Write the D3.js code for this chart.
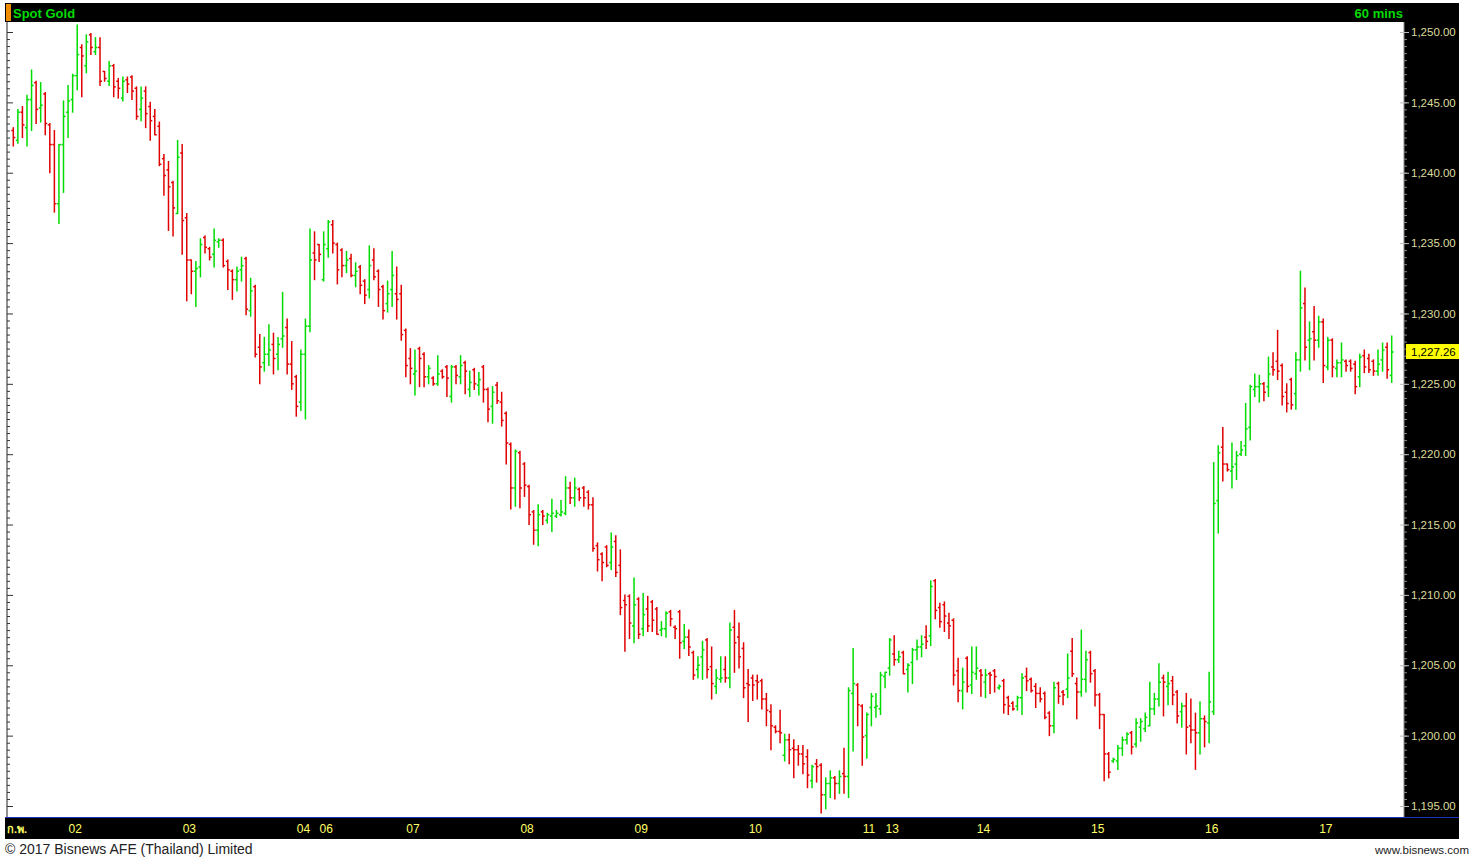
<!DOCTYPE html>
<html>
<head>
<meta charset="utf-8">
<script src="https://cdn.jsdelivr.net/npm/d3@7"></script>
<style>
  body { margin: 0; background: #fff; }
  svg { display: block; }
</style>
</head>
<body>
<svg id="chart" width="1471" height="859"></svg>
<script>
// hourly bars, Spot Gold, 1 - 17 Feb 2017
const highs = [
1243.2,1244.5,1244.7,1245.5,1247.3,1246.5,1246.4,1245.7,1243.5,1243.0,1242.0,1245.1,1246.2,1247.0,1250.5,1249.1,1249.8,1249.9,1249.6,1249.6,
1247.2,1247.9,1247.7,1246.7,1246.8,1246.8,1246.9,1246.1,1246.1,1246.1,1245.0,1244.5,1243.6,1241.3,1240.8,1239.4,1242.3,1242.0,1237.1,1233.8,
1233.7,1235.3,1235.5,1234.7,1236.0,1235.3,1235.3,1233.8,1233.1,1233.3,1234.0,1234.0,1232.5,1232.0,1228.5,1228.3,1229.2,1228.6,1228.3,1231.5,
1229.6,1228.0,1225.6,1227.4,1229.6,1236.0,1235.8,1234.9,1235.8,1236.6,1236.6,1235.0,1234.6,1234.4,1234.2,1233.6,1233.4,1232.4,1234.8,1234.6,
1233.1,1232.0,1232.3,1234.4,1233.3,1232.0,1228.9,1227.5,1227.4,1227.6,1227.2,1226.3,1225.5,1227.0,1226.0,1226.3,1226.3,1226.3,1227.0,1226.6,
1225.9,1226.1,1225.8,1226.3,1224.7,1224.8,1225.1,1224.4,1223.0,1220.8,1220.3,1220.2,1219.4,1217.8,1216.0,1216.4,1216.0,1215.8,1216.8,1216.0,
1216.7,1218.4,1218.0,1218.3,1217.6,1217.7,1217.4,1216.9,1213.7,1213.0,1213.5,1214.4,1214.2,1213.2,1210.0,1210.0,1211.2,1209.8,1210.1,1209.9,
1209.6,1209.1,1208.1,1208.8,1208.9,1207.8,1208.9,1207.9,1207.5,1206.0,1205.6,1206.7,1206.9,1206.3,1204.7,1205.6,1205.6,1208.0,1208.9,1208.0,
1206.6,1204.7,1204.3,1204.3,1204.0,1203.0,1202.2,1200.7,1201.8,1200.1,1200.1,1199.7,1199.3,1199.3,1199.0,1197.9,1198.3,1198.0,1197.0,1197.5,
1197.1,1197.5,1199.1,1203.4,1206.2,1203.7,1202.2,1201.6,1203.0,1203.0,1204.5,1204.5,1206.9,1207.1,1206.0,1206.0,1205.1,1206.2,1206.8,1207.1,
1207.8,1211.0,1211.1,1209.4,1209.5,1208.7,1208.3,1205.5,1204.8,1205.6,1206.3,1206.3,1204.7,1204.7,1204.5,1204.7,1203.6,1204.0,1202.8,1202.4,
1202.8,1204.4,1204.8,1204.1,1203.7,1203.4,1203.1,1201.7,1203.8,1203.8,1203.2,1205.8,1206.9,1204.1,1207.5,1206.0,1206.0,1204.7,1203.0,1201.5,
1198.8,1198.4,1199.3,1199.9,1200.2,1200.3,1201.2,1201.2,1201.6,1203.8,1203.0,1205.1,1204.3,1204.5,1204.2,1203.2,1202.3,1203.0,1202.6,1201.6,
1202.4,1201.4,1204.5,1219.4,1220.6,1221.9,1219.3,1220.8,1220.2,1220.9,1223.6,1224.9,1225.7,1225.6,1225.1,1226.9,1227.2,1228.8,1226.4,1225.0,
1225.4,1227.2,1233.0,1231.8,1229.4,1230.5,1229.8,1229.6,1228.3,1228.2,1226.7,1227.9,1226.7,1226.7,1226.6,1227.1,1227.4,1227.1,1226.7,1227.4,
1227.9,1227.9,1228.4
];
const lows = [
1241.9,1242.1,1242.5,1241.9,1243.0,1243.5,1243.6,1242.7,1240.0,1237.2,1236.4,1238.6,1242.5,1244.3,1245.9,1245.4,1247.1,1248.4,1248.4,1246.2,
1246.5,1246.2,1245.4,1245.3,1245.1,1245.7,1245.2,1243.8,1243.7,1243.2,1242.3,1242.7,1240.5,1238.4,1235.9,1235.5,1237.1,1234.2,1230.9,1231.4,
1230.5,1232.6,1234.3,1233.8,1233.3,1234.7,1233.3,1231.7,1231.0,1231.6,1232.3,1229.9,1229.8,1226.9,1225.0,1225.9,1226.3,1225.7,1226.0,1227.6,
1225.7,1224.6,1222.7,1223.1,1222.5,1228.7,1232.4,1233.7,1232.3,1234.0,1234.3,1232.1,1232.6,1232.9,1232.6,1231.9,1231.4,1230.7,1231.1,1232.4,
1230.5,1229.6,1230.1,1230.5,1229.6,1228.1,1225.5,1225.0,1224.2,1224.8,1224.8,1225.0,1224.9,1224.9,1225.4,1224.1,1223.7,1225.0,1225.0,1224.3,
1224.1,1224.6,1224.2,1223.7,1222.3,1222.2,1223.6,1222.0,1219.3,1216.1,1216.3,1216.2,1217.0,1215.0,1213.6,1213.5,1215.0,1215.1,1214.5,1215.5,
1215.6,1215.7,1216.5,1216.3,1216.7,1216.3,1216.1,1213.1,1211.7,1211.0,1212.0,1211.8,1211.3,1208.6,1206.0,1206.9,1206.6,1206.9,1207.1,1207.4,
1207.4,1207.2,1207.1,1207.0,1207.8,1206.9,1205.5,1206.2,1205.7,1204.0,1204.1,1204.0,1204.1,1202.6,1203.0,1203.8,1203.8,1203.4,1204.5,1204.8,
1202.7,1201.0,1202.5,1202.6,1201.9,1200.7,1199.0,1200.2,1199.5,1198.2,1198.0,1197.0,1197.9,1197.3,1196.3,1196.3,1196.7,1194.5,1194.8,1195.6,
1195.5,1195.9,1195.9,1195.6,1198.9,1200.7,1197.9,1198.4,1200.7,1201.3,1201.5,1203.4,1204.3,1205.0,1205.2,1204.4,1203.1,1203.7,1205.4,1205.6,
1206.2,1206.4,1208.3,1207.7,1207.4,1206.9,1203.6,1202.4,1201.9,1203.1,1203.0,1204.0,1202.8,1202.7,1203.0,1203.1,1203.3,1201.6,1201.5,1201.8,
1201.8,1201.5,1203.2,1203.1,1202.0,1202.4,1201.2,1200.0,1200.2,1202.3,1202.2,1202.7,1204.2,1201.2,1202.8,1203.1,1203.8,1202.1,1200.5,1196.8,
1197.0,1198.1,1197.6,1198.6,1199.4,1198.7,1199.2,1199.6,1200.3,1200.7,1201.5,1202.1,1201.4,1202.2,1202.2,1200.9,1200.6,1198.7,1199.5,1197.6,
1198.7,1199.2,1199.5,1201.5,1214.4,1218.1,1218.8,1217.6,1218.2,1219.9,1219.9,1221.0,1224.1,1223.7,1223.8,1224.1,1225.6,1225.3,1223.5,1223.0,
1223.2,1223.2,1225.9,1226.7,1226.0,1226.7,1227.6,1225.1,1226.0,1225.5,1225.5,1225.5,1225.9,1225.9,1224.3,1224.8,1225.8,1225.8,1225.6,1225.6,
1225.9,1225.4,1225.1
];
const opens = [
1243.0,1242.3,1244.3,1243.2,1245.2,1246.4,1244.6,1245.6,1243.4,1242.0,1237.8,1242.0,1244.3,1245.2,1246.9,1248.9,1247.6,1249.8,1248.6,1248.9,
1247.2,1246.5,1247.6,1246.5,1245.3,1246.6,1246.8,1246.0,1244.5,1245.8,1244.7,1244.0,1243.3,1241.0,1240.2,1239.3,1237.1,1241.4,1236.8,1233.8,
1233.0,1233.3,1235.4,1234.6,1234.2,1235.1,1235.2,1233.7,1233.0,1232.4,1233.1,1233.9,1230.2,1231.9,1227.6,1226.5,1227.1,1227.8,1227.1,1228.2,
1229.0,1226.4,1225.5,1223.7,1227.1,1229.1,1234.3,1234.9,1232.4,1234.6,1236.3,1234.9,1234.5,1233.4,1233.9,1232.7,1233.3,1232.3,1231.7,1233.8,
1233.0,1231.9,1230.7,1231.7,1231.4,1231.4,1228.8,1226.8,1225.7,1227.5,1227.1,1225.5,1225.4,1225.0,1225.9,1226.2,1224.1,1226.2,1225.5,1226.5,
1224.6,1226.0,1224.9,1226.2,1224.6,1223.4,1224.9,1223.7,1222.9,1220.7,1217.6,1220.1,1219.3,1217.7,1215.9,1214.6,1215.9,1215.3,1215.6,1215.6,
1215.7,1215.8,1217.6,1216.9,1217.5,1217.6,1217.3,1216.4,1213.5,1212.9,1213.4,1212.3,1213.8,1212.1,1209.6,1209.9,1207.8,1209.7,1207.6,1209.0,
1209.5,1209.0,1207.5,1207.6,1208.8,1207.7,1208.8,1206.7,1207.0,1205.9,1204.7,1205.6,1206.8,1204.9,1203.5,1204.0,1204.7,1204.1,1207.7,1207.0,
1206.2,1203.7,1204.1,1203.9,1203.9,1202.6,1201.7,1200.6,1200.3,1198.6,1199.7,1199.1,1199.0,1198.7,1198.5,1196.8,1198.0,1197.9,1195.8,1196.6,
1197.0,1196.6,1197.3,1197.1,1203.0,1203.6,1202.1,1200.0,1202.0,1202.0,1201.9,1204.2,1204.8,1205.8,1205.4,1205.9,1204.7,1205.2,1206.1,1206.3,
1207.0,1207.1,1211.0,1209.1,1209.3,1208.0,1208.2,1204.6,1203.2,1205.5,1203.6,1204.4,1204.6,1203.8,1204.4,1204.6,1203.4,1203.9,1202.7,1202.3,
1202.1,1202.7,1204.2,1204.0,1203.5,1203.0,1203.0,1201.6,1200.7,1203.7,1203.1,1203.3,1206.0,1203.7,1203.1,1204.0,1205.9,1204.6,1202.9,1201.5,
1198.7,1198.2,1198.2,1199.1,1199.7,1200.2,1199.4,1200.6,1200.5,1200.7,1201.9,1202.6,1204.1,1203.5,1203.9,1203.1,1201.7,1202.1,1200.7,1200.4,
1200.2,1201.2,1200.9,1201.7,1216.7,1220.5,1219.3,1218.8,1219.3,1220.0,1220.6,1221.9,1224.6,1224.8,1225.0,1224.8,1226.2,1226.6,1226.3,1224.4,
1225.3,1224.3,1226.7,1230.7,1228.1,1228.7,1228.1,1229.4,1226.2,1228.1,1226.1,1226.5,1226.6,1226.6,1226.4,1225.5,1227.0,1226.8,1226.6,1225.9,
1226.7,1227.6,1225.6
];
const closes = [
1242.5,1244.3,1243.4,1245.2,1246.2,1244.5,1244.8,1243.5,1242.0,1237.8,1242.0,1244.0,1245.1,1246.9,1248.4,1248.3,1249.3,1248.9,1248.9,1246.5,
1246.7,1247.6,1246.1,1246.0,1246.5,1246.3,1245.8,1244.0,1245.3,1244.2,1243.7,1242.7,1240.6,1239.8,1239.0,1237.5,1241.1,1236.6,1233.8,1233.0,
1233.2,1234.9,1234.7,1234.0,1235.2,1235.2,1233.4,1233.1,1232.4,1233.0,1233.4,1230.3,1231.6,1227.1,1226.2,1227.1,1227.4,1226.8,1227.8,1228.4,
1226.4,1225.0,1223.4,1227.1,1229.1,1233.8,1233.8,1234.2,1234.9,1236.5,1235.0,1233.1,1233.4,1233.8,1232.7,1233.0,1232.0,1231.3,1233.4,1232.6,
1231.7,1230.2,1231.4,1232.7,1231.0,1228.5,1226.3,1226.1,1225.9,1226.8,1225.5,1226.1,1225.0,1225.7,1225.5,1225.4,1226.2,1225.6,1226.3,1225.9,
1225.1,1225.0,1225.3,1224.6,1223.2,1224.4,1223.8,1222.4,1220.8,1217.6,1220.2,1217.6,1217.8,1215.7,1214.6,1215.7,1215.6,1215.7,1215.8,1215.8,
1215.9,1217.6,1216.9,1217.6,1216.9,1216.9,1216.4,1213.3,1212.5,1212.3,1212.1,1213.4,1211.6,1209.1,1209.3,1208.0,1209.3,1207.2,1208.6,1207.8,
1208.2,1207.2,1207.6,1208.7,1208.3,1207.6,1206.6,1207.0,1206.3,1204.3,1205.0,1206.1,1204.7,1203.7,1204.1,1204.1,1204.1,1207.5,1206.6,1205.6,
1203.4,1203.6,1203.6,1203.8,1202.6,1201.8,1200.7,1200.3,1200.2,1199.7,1199.0,1199.0,1198.7,1198.0,1197.2,1197.8,1197.8,1195.8,1196.6,1197.0,
1196.6,1197.1,1197.1,1203.2,1203.7,1202.2,1199.9,1201.5,1202.8,1202.1,1204.3,1204.5,1206.8,1205.4,1205.6,1204.4,1205.0,1206.1,1206.3,1206.5,
1206.7,1210.6,1208.9,1208.1,1208.5,1207.8,1204.3,1203.2,1203.8,1203.5,1204.5,1204.8,1204.3,1204.3,1204.3,1204.2,1203.5,1202.2,1202.1,1201.9,
1202.7,1204.1,1203.9,1203.2,1203.0,1202.6,1201.3,1200.7,1203.4,1202.8,1202.9,1204.1,1204.4,1203.1,1204.0,1205.4,1204.4,1202.9,1201.5,1198.7,
1197.4,1198.3,1199.1,1199.7,1200.1,1199.2,1200.9,1201.0,1201.3,1201.9,1202.6,1203.8,1203.8,1203.7,1202.9,1201.4,1202.1,1200.6,1200.4,1200.2,
1201.2,1201.0,1202.4,1216.5,1220.1,1219.3,1218.9,1219.1,1219.9,1220.3,1221.8,1224.8,1224.8,1225.0,1224.4,1225.7,1226.0,1225.9,1224.1,1223.6,
1223.5,1226.7,1230.4,1227.6,1228.2,1228.1,1229.4,1226.3,1228.1,1226.2,1226.5,1226.7,1226.3,1226.1,1224.8,1226.9,1226.2,1226.0,1225.9,1226.4,
1227.4,1226.0,1227.26
];

// first bar of each calendar day, and its label
const dayStarts = [12, 37, 62, 67, 86, 111, 136, 161, 186, 191, 211, 236, 261, 286];
const dayLabels = ["02", "03", "04", "06", "07", "08", "09", "10", "11", "13", "14", "15", "16", "17"];
const priceTicks = [1195, 1200, 1205, 1210, 1215, 1220, 1225, 1230, 1235, 1240, 1245, 1250];
const lastPrice = 1227.26;

const W = 1471, H = 859;
const plot = { left: 7, right: 1404, top: 22, bottom: 817, edge: 1459 };

const svg = d3.select("#chart");
const bars = closes.map((c, i) => ({ i, o: opens[i], h: highs[i], l: lows[i], c }));

const x = d3.scaleLinear().domain([0, bars.length - 1]).range([13.3, 1391.7]);
const y = d3.scaleLinear().domain([1195, 1250]).range([806, 32]);

const GREEN = "#00dc00", RED = "#e00000";
const fmt = d3.format(",.2f");

svg.append("clipPath").attr("id", "edge").append("rect")
  .attr("x", 0).attr("y", 0).attr("width", plot.edge).attr("height", 840);
const frame = svg.append("g").attr("clip-path", "url(#edge)");

// header
frame.append("rect").attr("x", 5).attr("y", 3).attr("width", plot.edge - 5).attr("height", 19).attr("fill", "#000");
frame.append("rect").attr("x", 6).attr("y", 4).attr("width", 5).attr("height", 17).attr("fill", "#f08c00");
frame.append("text").attr("x", 13).attr("y", 18)
  .attr("font-family", "Liberation Sans, Arial, sans-serif").attr("font-weight", "bold")
  .attr("font-size", 13).attr("fill", GREEN).text("Spot Gold");
frame.append("text").attr("x", 1403).attr("y", 18).attr("text-anchor", "end")
  .attr("font-family", "Liberation Sans, Arial, sans-serif").attr("font-weight", "bold")
  .attr("font-size", 13).attr("fill", GREEN).text("60 mins");

// right axis panel
frame.append("rect").attr("x", plot.right).attr("y", 22).attr("width", plot.edge - plot.right).attr("height", plot.bottom - 22).attr("fill", "#000");

// bottom axis panel
frame.append("rect").attr("x", 5).attr("y", 818).attr("width", plot.edge - 5).attr("height", 21).attr("fill", "#000");
frame.append("line").attr("x1", 5).attr("x2", plot.edge).attr("y1", 817.5).attr("y2", 817.5).attr("stroke", "#1e32c8");

// left edge axis (ticks only)
const minor = d3.range(1195, 1250.01, 0.5);
const leftAxis = frame.append("g").attr("transform", `translate(${plot.left},0)`)
  .call(d3.axisRight(y).tickValues(minor).tickSize(3).tickFormat(""));
leftAxis.select(".domain").attr("stroke", "#222").attr("d", `M0,${plot.top}V${plot.bottom}`);
leftAxis.selectAll(".tick line").attr("stroke", "#333")
  .attr("x2", d => (d % 5 === 0 ? 6 : 3));

// right axis
const rightMinor = frame.append("g").attr("transform", `translate(${plot.right},0)`)
  .call(d3.axisRight(y).tickValues(minor).tickSize(3).tickFormat(""));
rightMinor.select(".domain").attr("stroke", "#888").attr("d", `M0,${plot.top}V${plot.bottom}`);
rightMinor.selectAll(".tick line").attr("stroke", "#888");

const rightAxis = frame.append("g").attr("transform", `translate(${plot.right},0)`)
  .call(d3.axisRight(y).tickValues(priceTicks).tickSize(5).tickPadding(2).tickFormat(fmt));
rightAxis.select(".domain").remove();
rightAxis.selectAll(".tick line").attr("stroke", "#bbb").attr("x1", -4);
rightAxis.selectAll(".tick text")
  .attr("font-family", "Liberation Sans, Arial, sans-serif").attr("font-size", 11.5)
  .attr("fill", "#dcdc9c");

// last price marker
const lp = frame.append("g").attr("transform", `translate(${plot.right + 2},${y(lastPrice)})`);
lp.append("rect").attr("x", 0).attr("y", -8).attr("width", 54).attr("height", 15).attr("fill", "#ffff00");
lp.append("text").attr("x", 5).attr("y", 4)
  .attr("font-family", "Liberation Sans, Arial, sans-serif").attr("font-size", 11.5)
  .attr("fill", "#000").text(fmt(lastPrice));

// bottom axis
const bottomAxis = frame.append("g").attr("transform", `translate(0,818)`)
  .call(d3.axisBottom(x).tickValues(dayStarts).tickSize(0).tickPadding(0)
    .tickFormat((d, k) => dayLabels[k]));
bottomAxis.select(".domain").remove();
bottomAxis.selectAll(".tick text")
  .attr("text-anchor", "start").attr("dy", null).attr("y", 15)
  .attr("font-family", "Liberation Sans, Arial, sans-serif").attr("font-size", 12)
  .attr("fill", "#ffff66");
frame.append("text").attr("x", 7).attr("y", 833)
  .attr("font-family", "Noto Sans, DejaVu Sans, sans-serif").attr("font-size", 11).attr("font-weight", "bold")
  .attr("fill", "#ffff66").text("ก.พ.");

// OHLC bars
const g = frame.append("g").attr("stroke-width", 1.5);
const bg = g.selectAll("g.bar").data(bars).join("g")
  .attr("class", "bar")
  .attr("stroke", d => (d.c >= d.o ? GREEN : RED));
bg.append("line").attr("x1", d => x(d.i)).attr("x2", d => x(d.i))
  .attr("y1", d => y(d.h) - 0.5).attr("y2", d => y(d.l) + 0.5);
bg.append("line").attr("x1", d => x(d.i) - 2).attr("x2", d => x(d.i))
  .attr("y1", d => y(d.o)).attr("y2", d => y(d.o));
bg.append("line").attr("x1", d => x(d.i)).attr("x2", d => x(d.i) + 2)
  .attr("y1", d => y(d.c)).attr("y2", d => y(d.c));

// footer
svg.append("text").attr("x", 5).attr("y", 854)
  .attr("font-family", "Liberation Sans, Arial, sans-serif").attr("font-size", 14)
  .attr("fill", "#222").text("\u00a9 2017 Bisnews AFE (Thailand) Limited");
svg.append("text").attr("x", 1469).attr("y", 854).attr("text-anchor", "end")
  .attr("font-family", "Liberation Sans, Arial, sans-serif").attr("font-size", 11.5)
  .attr("fill", "#222").text("www.bisnews.com");
</script>
</body>
</html>
